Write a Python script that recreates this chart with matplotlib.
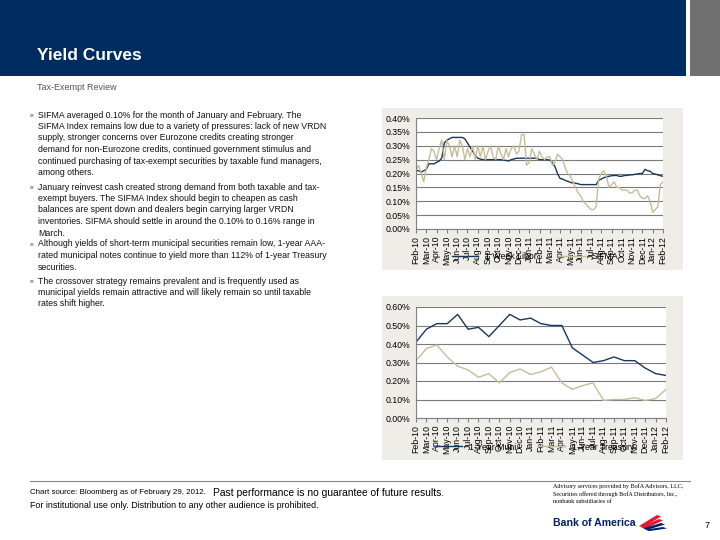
import numpy as np
import matplotlib
matplotlib.use("Agg")
import matplotlib.pyplot as plt
from matplotlib.patches import Polygon

plt.rcParams['font.family'] = ['Liberation Sans', 'DejaVu Sans']

# ---- data ----
months = ['Feb-10', 'Mar-10', 'Apr-10', 'May-10', 'Jun-10', 'Jul-10', 'Aug-10',
          'Sep-10', 'Oct-10', 'Nov-10', 'Dec-10', 'Jan-11', 'Feb-11', 'Mar-11',
          'Apr-11', 'May-11', 'Jun-11', 'Jul-11', 'Aug-11', 'Sep-11', 'Oct-11',
          'Nov-11', 'Dec-11', 'Jan-12', 'Feb-12']

# weekly readings (4 per month), in percent
libor_1w = [0.21, 0.21, 0.205, 0.21,
            0.215, 0.235, 0.235, 0.235,
            0.24, 0.245, 0.255, 0.31,
            0.32, 0.325, 0.33, 0.33,
            0.33, 0.33, 0.33, 0.325,
            0.31, 0.295, 0.28, 0.265,
            0.255, 0.252, 0.25, 0.25,
            0.25, 0.25, 0.25, 0.25,
            0.25, 0.25, 0.248, 0.247,
            0.245, 0.25, 0.252, 0.255,
            0.255, 0.255, 0.255, 0.255,
            0.255, 0.255, 0.255, 0.255,
            0.25, 0.25, 0.25, 0.25,
            0.248, 0.24, 0.225, 0.20,
            0.182, 0.18, 0.175, 0.172,
            0.168, 0.166, 0.165, 0.163,
            0.16, 0.16, 0.16, 0.16,
            0.16, 0.16, 0.16, 0.175,
            0.18, 0.185, 0.188, 0.19,
            0.192, 0.193, 0.193, 0.19,
            0.19, 0.193, 0.193, 0.195,
            0.195, 0.197, 0.198, 0.20,
            0.20, 0.215, 0.21, 0.208,
            0.20, 0.198, 0.195, 0.192,
            0.19]

sifma = [0.21, 0.23, 0.20, 0.17,
         0.22, 0.25, 0.29, 0.28,
         0.25, 0.29, 0.32, 0.25,
         0.32, 0.30, 0.26, 0.30,
         0.26, 0.32, 0.30, 0.25,
         0.29, 0.26, 0.30, 0.25,
         0.30, 0.26, 0.30, 0.25,
         0.28, 0.30, 0.26, 0.25,
         0.30, 0.27, 0.25, 0.29,
         0.26, 0.29, 0.30, 0.27,
         0.28, 0.34, 0.34, 0.23,
         0.24, 0.29, 0.27, 0.25,
         0.28, 0.26, 0.25, 0.26,
         0.26, 0.23, 0.24, 0.27,
         0.26, 0.25, 0.22, 0.20,
         0.19, 0.17, 0.15, 0.13,
         0.12, 0.10, 0.09, 0.08,
         0.07, 0.07, 0.08, 0.18,
         0.20, 0.21, 0.19, 0.15,
         0.16, 0.17, 0.15, 0.15,
         0.14, 0.14, 0.14, 0.13,
         0.13, 0.14, 0.14, 0.12,
         0.11, 0.11, 0.12, 0.10,
         0.06, 0.07, 0.08, 0.16,
         0.17]

# monthly readings, in percent
muni_1y = [0.41, 0.48, 0.51, 0.51, 0.56, 0.48, 0.49, 0.44, 0.50, 0.56, 0.53, 0.54,
           0.51, 0.50, 0.50, 0.38, 0.34, 0.30, 0.31, 0.33, 0.31, 0.31, 0.27, 0.24, 0.23]
treas_1y = [0.31, 0.375, 0.395, 0.33, 0.28, 0.26, 0.22, 0.24, 0.19, 0.245, 0.265, 0.235,
            0.25, 0.275, 0.19, 0.155, 0.175, 0.19, 0.095, 0.10, 0.10, 0.11, 0.095, 0.105, 0.155]

bullets = [
    ["SIFMA averaged 0.10% for the month of January and February. The",
     "SIFMA Index remains low due to a variety of pressures: lack of new VRDN",
     "supply, stronger concerns over Eurozone credits creating stronger",
     "demand for non-Eurozone credits, continued government stimulus and",
     "continued purchasing of tax-exempt securities by taxable fund managers,",
     "among others."],
    ["January reinvest cash created strong demand from both taxable and tax-",
     "exempt buyers. The SIFMA Index should begin to cheapen as cash",
     "balances are spent down and dealers begin carrying larger VRDN",
     "inventories. SIFMA should settle in around the 0.10% to 0.16% range in",
     "March."],
    ["Although yields of short-term municipal securities remain low, 1-year AAA-",
     "rated municipal notes continue to yield more than 112% of 1-year Treasury",
     "securities."],
    ["The crossover strategy remains prevalent and is frequently used as",
     "municipal yields remain attractive and will likely remain so until taxable",
     "rates shift higher."],
]
bullet_tops = [115, 187, 244, 281]

NAVY = '#002d5f'
DARK = '#17375e'
TAN = '#c4bd97'
PANEL = '#eeede8'
W, H = 720, 540


def rect(left, top, width, height):
    return [left / W, 1 - (top + height) / H, width / W, height / H]


def blank(box, color):
    a = fig.add_axes(rect(*box))
    a.set_facecolor(color)
    a.set_xticks([]); a.set_yticks([])
    for s in a.spines.values():
        s.set_visible(False)
    return a


fig = plt.figure(figsize=(7.2, 5.4), dpi=100)
fig.patch.set_facecolor('white')

# header band
blank((0, 0, 686, 76), NAVY)
blank((690, 0, 30, 76), '#707070')

fig.text(37 / W, 1 - 55 / H, 'Yield Curves', color='white', fontsize=12.5,
         fontweight='bold', va='center')
fig.text(37 / W, 1 - 88 / H, 'Tax-Exempt Review', color='#555555', fontsize=6.5,
         va='center')

# bullet text
for lines, top in zip(bullets, bullet_tops):
    fig.text(30 / W, 1 - top / H, '\u25a0', color='#a8a8a8', fontsize=4.5, va='center')
    for i, ln in enumerate(lines):
        fig.text(38 / W, 1 - (top + i * 11.5) / H, ln, fontsize=6.35,
                 color='#111111', va='center')


def chart(panel_box, plot_box, series, labels, colors, ymax, ystep, leg_y):
    blank(panel_box, PANEL)
    ax = fig.add_axes(rect(*plot_box))
    ax.set_facecolor('white')
    handles = []
    for vals, lab, col in zip(series, labels, colors):
        x = np.arange(len(vals)) * (len(months) - 1) / (len(vals) - 1)
        h, = ax.plot(x, vals, color=col, lw=1.0, label=lab)
        handles.append(h)
    ax.set_xlim(0, len(months) - 1)
    ax.set_ylim(0, ymax)
    yt = np.arange(0, ymax + ystep / 2, ystep)
    ax.set_yticks(yt)
    ax.set_yticklabels(['%.2f%%' % v for v in yt], fontsize=6.3)
    ax.set_xticks(np.arange(len(months)))
    ax.set_xticklabels(months, rotation=90, fontsize=6.3)
    ax.yaxis.grid(True, color='#7a7a7a', lw=0.8)
    ax.set_axisbelow(True)
    ax.tick_params(axis='y', length=0, pad=4)
    ax.tick_params(axis='x', length=3, color='#808080', pad=2)
    for k in ['top', 'right']:
        ax.spines[k].set_visible(False)
    for k in ['left', 'bottom']:
        ax.spines[k].set_color('#808080')
    fig.legend(handles=handles, labels=labels, loc='center',
               bbox_to_anchor=(535 / W, 1 - leg_y / H), ncol=2, frameon=False,
               fontsize=6.3, handlelength=3, columnspacing=2.5)


chart((382, 108, 301, 162), (416, 118, 247, 111), [libor_1w, sifma],
      ['1 Week Libor', 'SIFMA'], [DARK, TAN], 0.40, 0.05, 257)
chart((382, 296, 301, 164), (416, 307, 250, 111), [muni_1y, treas_1y],
      ['1-Year Muni', '1-Year Treasury'], [DARK, TAN], 0.60, 0.10, 447)

# footer
fig.add_artist(plt.Line2D([30 / W, 690 / W], [1 - 481 / H, 1 - 481 / H],
                          color='#888888', lw=0.8))
fig.text(30 / W, 1 - 493 / H, 'Chart source: Bloomberg as of February 29, 2012.',
         fontsize=5.7, va='center')
fig.text(213 / W, 1 - 493 / H, 'Past performance is no guarantee of future results.',
         fontsize=7.4, va='center')
fig.text(30 / W, 1 - 505 / H,
         'For institutional use only. Distribution to any other audience is prohibited.',
         fontsize=6.4, va='center')
fig.text(553 / W, 1 - 494 / H,
         'Advisory services provided by BofA Advisors, LLC,\n'
         'Securities offered through BofA Distributors, Inc.,\n'
         'nonbank subsidiaries of',
         fontsize=4.4, family='Liberation Serif', va='center', linespacing=1.5)
fig.text(553 / W, 1 - 523 / H, 'Bank of America', fontsize=7.6, fontweight='bold',
         color='#012169', va='center')

# small flag mark next to the name
flag = fig.add_axes(rect(639, 514, 28, 18))
flag.set_xlim(0, 28); flag.set_ylim(18, 0); flag.axis('off')
for i, col in enumerate(['#e31837', '#e31837', '#012169', '#012169']):
    oy = i * 4
    flag.add_patch(Polygon([(0 + i * 2, 12 + oy * 0.3), (18 + i * 2, 1 + oy),
                            (22 + i * 2, 2.5 + oy), (4 + i * 2, 13.5 + oy * 0.3)],
                           closed=True, color=col, lw=0))

fig.text(705 / W, 1 - 525 / H, '7', fontsize=6.5, va='center')

fig.savefig('out.png', dpi=100)
